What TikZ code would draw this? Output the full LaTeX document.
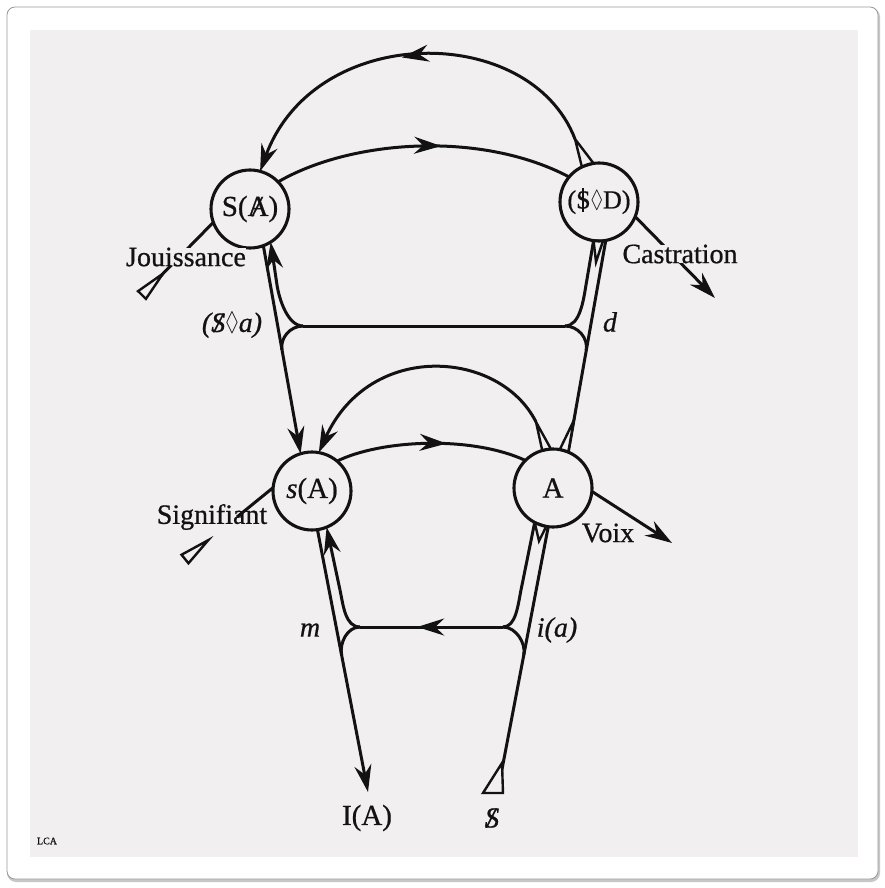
\documentclass[tikz,border=0pt]{standalone}
\usepackage{amssymb}
\usepackage{fontspec}
\setmainfont{Liberation Serif}[FakeBold=0.7]
\usetikzlibrary{arrows.meta,decorations.markings,calc}
\definecolor{bg}{HTML}{F1EFF0}
\definecolor{ink}{HTML}{121212}
\newcommand{\Abar}{\ooalign{A\cr\hidewidth\textit{/}\hidewidth\cr}}
\newcommand{\Sbar}{\ooalign{S\cr\hidewidth\rule[-0.12em]{0.07em}{0.92em}\hidewidth\cr}}
\newcommand{\Sbarit}{\ooalign{\textit{S}\cr\hidewidth\textit{/}\hidewidth\cr}}
\newcommand{\lz}{\raisebox{0.05em}{\scalebox{0.72}[0.95]{$\lozenge$}}}
\begin{document}
\begin{tikzpicture}[x=1pt,y=-1pt,
  ln/.style={line width=3pt,draw=ink},
  cnode/.style={circle,minimum size=78pt,inner sep=0pt,outer sep=0pt,font=\fontsize{29}{32}\selectfont,text=ink},
  lbl/.style={font=\fontsize{28}{32}\selectfont,inner sep=0pt,text=ink},
  endarr/.style={-{Stealth[length=27pt,width=17pt,inset=9pt]}},
  midarr/.style={postaction={decorate,decoration={markings,mark=at position #1 with {\arrow{Stealth[length=27pt,width=17pt,inset=9pt]}}}}},
  tri/.style={line width=2.4pt,draw=ink,fill=bg,line join=miter}
]
\useasboundingbox (0,0) rectangle (885,888);
\fill[white] (0,0) rectangle (885,888);
\fill[black!22,rounded corners=9pt] (7,8) rectangle (880,882);
\fill[white,rounded corners=8pt] (7,7) rectangle (878,879);
\draw[black!40,line width=0.8pt,rounded corners=8pt] (7,7) rectangle (878,879);
\fill[bg] (30,30) rectangle (858,857);

% circle nodes (outlines drawn at the end)
\node[cnode] (SA) at (250,209) {S(\Abar)};
\node[cnode,font=\fontsize{26}{30}\selectfont] (SD) at (599,202) {(\Sbar\lz D)};
\node[cnode] (sA) at (312,491) {\textit{s}(A)};
\node[cnode] (A) at (553,488) {A};

% junction coordinates
\coordinate (c1) at (303,326);
\coordinate (c2) at (565,326);
\coordinate (c3) at (360,627);
\coordinate (c4) at (503,627);
\coordinate (tSDtop) at (575,139);
\coordinate (tSDbot) at (596,262);
\coordinate (tAtop) at (536,422);
\coordinate (tAbot) at (539,541);
\coordinate (jo) at (142,295);
\coordinate (si) at (185,559);
\coordinate (siv) at (237,517);
\coordinate (cas) at (715,298);
\coordinate (vo) at (672,543);
\coordinate (IAt) at (368,792);
\coordinate (Sb) at (499,785);

% upper arcs
\draw[ln,endarr,midarr=0.52] (tSDtop) .. controls (530,22) and (315,22) .. (SA.75);
\draw[ln,midarr=0.56] (SA.44) .. controls (350,140) and (480,130) .. (SD.140);

% Jouissance -> S(A) -> ($D) -> Castration
\draw[ln] (jo) -- (SA.200);
\draw[ln,endarr] (SD.-22) -- (cas);

% upper vertical lines
\draw[ln,endarr] (SA.-70) -- (sA.107);
\draw[ln] (A.67) -- (SD.-80);

% upper fantasy line with cusps
\draw[ln] (c1) -- (c2);
\draw[ln,endarr] (c1) .. controls (288,326) and (279.3,300) .. (277,285) -- (SA.-58);
\draw[ln] (c1) .. controls (290,326) and (279.9,338.2) .. (282,350);
\draw[ln] (c2) .. controls (580,326) and (583.5,300) .. (586,285) -- (SD.-98);
\draw[ln] (c2) .. controls (578,326) and (588.3,338.2) .. (586.2,350);

% lower arcs
\draw[ln,endarr] (tAtop) .. controls (500,350) and (370,340) .. (sA.80);
\draw[ln,midarr=0.58] (sA.50) .. controls (380,440) and (470,435) .. (A.135);

% signifier chain
\draw[ln] (siv) -- (sA.175);
\draw[ln,endarr] (A.-5) -- (vo);

% lower vertical lines
\draw[ln,endarr] (sA.-82) -- (IAt);
\draw[ln] (Sb) -- (A.-97);

% lower imaginary line with cusps
\draw[ln,midarr=0.6] (c4) -- (c3);
\draw[ln,endarr] (c3) .. controls (345,627) and (343.2,604.7) .. (340,590) -- (sA.-68);
\draw[ln] (c3) .. controls (347,627) and (339.3,643.2) .. (341.6,655);
\draw[ln] (c4) .. controls (516,627) and (518,604.7) .. (521,590) -- (A.-118);
\draw[ln] (c4) .. controls (516,627) and (526.1,643.2) .. (523.8,655);

% junction / start triangles
\draw[tri] (SD.116) -- (tSDtop) -- (SD.98) -- cycle;
\draw[tri] (SD.-98) -- (tSDbot) -- (SD.-84) -- cycle;
\draw[tri] (A.106) -- (tAtop) -- (A.93) -- cycle;
\draw[tri] (A.80) -- ($(A.67)!0.15!(SD.-80)$) -- (A.67) -- cycle;
\draw[tri] (A.-118) -- (tAbot) -- (A.-100) -- cycle;
\draw[tri] ($(jo)!5.5pt!90:(SA.200)$) -- ($(jo)!30pt!(SA.200)$) -- ($(jo)!5.5pt!-90:(SA.200)$) -- cycle;
\draw[tri] ($(si)!5.5pt!90:(sA.175)$) -- ($(si)!30pt!(sA.175)$) -- ($(si)!5.5pt!-90:(sA.175)$) -- cycle;
\draw[tri] (483,793) -- (502,763) -- (503,793) -- cycle;

% circle outlines
\foreach \n in {SA,SD,sA,A} \draw[line width=3.1pt,ink] (\n) circle (39pt);

% labels
\node[lbl,fill=bg] (lJ) at (186,257) {Jouissance};
\node[lbl,fill=bg] (lC) at (680,254) {Castration};
\node[lbl] (lS) at (212,517) {Signifiant};
\node[lbl] (lV) at (608,533) {Voix};
\node[lbl] (lda) at (232,325) {\textit{(\Sbarit\lz a)}};
\node[lbl] (ld) at (610,322) {\textit{d}};
\node[lbl] (lm) at (310,630) {\textit{m}};
\node[lbl] (lia) at (557,630) {\textit{i(a)}};
\node[lbl,font=\fontsize{29}{32}\selectfont] (IA) at (367,818) {I(A)};
\node[lbl,font=\fontsize{29}{32}\selectfont] (Sbot) at (492,818) {\Sbarit};
\node[font=\fontsize{10}{11}\selectfont,text=ink] (lca) at (47,841) {LCA};
\end{tikzpicture}
\end{document}
